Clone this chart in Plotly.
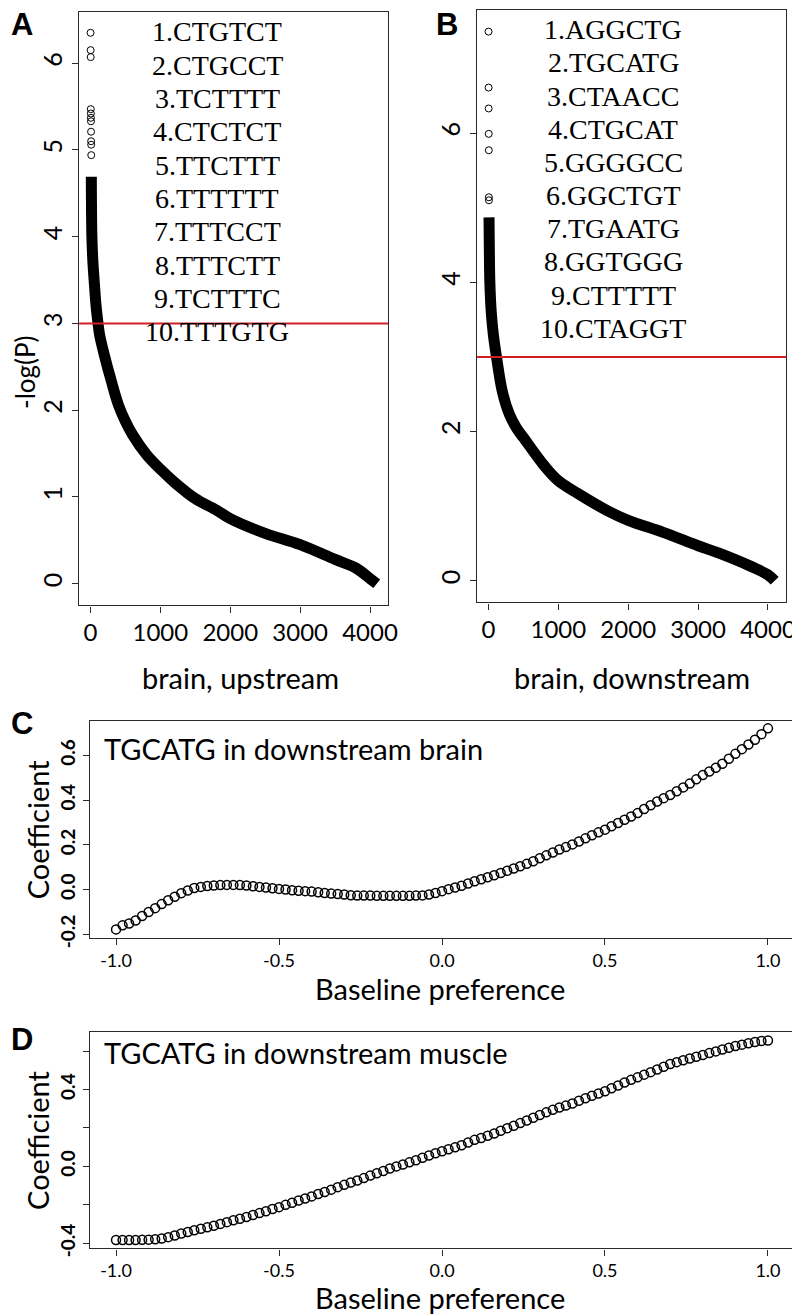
import plotly.graph_objects as go

W, H = 800, 1315

# ---------------- Panel A: brain, upstream ----------------
a_top_rank = [1, 2, 3, 4, 5, 6, 7, 8, 9, 10, 11]
a_top_val = [6.35, 6.15, 6.07, 5.47, 5.42, 5.37, 5.33, 5.21, 5.10, 5.06, 4.94]
a_band_rank = [12, 20, 35, 52, 80, 108, 132, 200, 300, 400, 500, 600, 800, 1000,
               1200, 1500, 1800, 2000, 2500, 3000, 3500, 3800, 4000, 4096]
a_band_val = [4.69, 4.00, 3.70, 3.50, 3.20, 3.00, 2.86, 2.63, 2.33, 2.06, 1.87, 1.72,
              1.49, 1.32, 1.17, 0.98, 0.85, 0.75, 0.58, 0.45, 0.28, 0.18, 0.06, 0.00]
a_motifs = ["1.CTGTCT", "2.CTGCCT", "3.TCTTTT", "4.CTCTCT", "5.TTCTTT",
            "6.TTTTTT", "7.TTTCCT", "8.TTTCTT", "9.TCTTTC", "10.TTTGTG"]

# ---------------- Panel B: brain, downstream ----------------
b_top_rank = [1, 2, 3, 4, 5, 6, 7]
b_top_val = [7.36, 6.61, 6.33, 5.99, 5.77, 5.14, 5.10]
b_band_rank = [8, 12, 20, 40, 70, 115, 200, 300, 400, 500, 800, 1000, 1280, 1700,
               2000, 2500, 3000, 3300, 3764, 4000, 4096]
b_band_val = [4.87, 4.50, 4.00, 3.60, 3.30, 3.00, 2.53, 2.23, 2.05, 1.92, 1.54, 1.34,
              1.17, 0.94, 0.81, 0.65, 0.47, 0.37, 0.19, 0.08, 0.00]
b_motifs = ["1.AGGCTG", "2.TGCATG", "3.CTAACC", "4.CTGCAT", "5.GGGGCC",
            "6.GGCTGT", "7.TGAATG", "8.GGTGGG", "9.CTTTTT", "10.CTAGGT"]

threshold = 3.0

# ---------------- Panels C / D ----------------
baseline = [round(-1 + 0.02 * i, 2) for i in range(101)]
coef_brain = [
    -0.178, -0.160, -0.152, -0.138, -0.118, -0.100, -0.083, -0.065, -0.048, -0.032,
    -0.016, -0.004, 0.007, 0.012, 0.016, 0.018, 0.020, 0.021, 0.021, 0.020,
    0.018, 0.015, 0.012, 0.009, 0.006, 0.003, 0.000, -0.003, -0.005, -0.007,
    -0.009, -0.012, -0.015, -0.018, -0.020, -0.022, -0.025, -0.027, -0.027, -0.027,
    -0.028, -0.028, -0.028, -0.028, -0.028, -0.028, -0.027, -0.026, -0.022, -0.015,
    -0.007, 0.002, 0.009, 0.017, 0.027, 0.037, 0.046, 0.055, 0.064, 0.074,
    0.084, 0.094, 0.104, 0.115, 0.127, 0.140, 0.153, 0.166, 0.179, 0.190,
    0.202, 0.215, 0.229, 0.243, 0.256, 0.268, 0.283, 0.298, 0.312, 0.327,
    0.342, 0.360, 0.377, 0.394, 0.409, 0.423, 0.440, 0.457, 0.474, 0.493,
    0.512, 0.528, 0.545, 0.563, 0.585, 0.607, 0.628, 0.649, 0.670, 0.695,
    0.721]
coef_muscle = [
    -0.383, -0.383, -0.383, -0.383, -0.382, -0.381, -0.379, -0.375, -0.368, -0.359,
    -0.349, -0.341, -0.332, -0.324, -0.317, -0.309, -0.299, -0.290, -0.280, -0.272,
    -0.263, -0.253, -0.243, -0.233, -0.222, -0.212, -0.200, -0.189, -0.177, -0.167,
    -0.156, -0.144, -0.133, -0.121, -0.108, -0.096, -0.084, -0.073, -0.061, -0.048,
    -0.036, -0.024, -0.011, 0.000, 0.010, 0.021, 0.032, 0.045, 0.057, 0.068,
    0.079, 0.089, 0.099, 0.110, 0.124, 0.138, 0.148, 0.159, 0.171, 0.185,
    0.198, 0.211, 0.225, 0.239, 0.253, 0.267, 0.281, 0.294, 0.306, 0.316,
    0.327, 0.341, 0.354, 0.367, 0.379, 0.391, 0.406, 0.421, 0.436, 0.450,
    0.463, 0.477, 0.490, 0.504, 0.518, 0.532, 0.542, 0.552, 0.561, 0.570,
    0.579, 0.589, 0.598, 0.608, 0.617, 0.626, 0.633, 0.640, 0.647, 0.652,
    0.655]

x_ticks_ab = [0, 1000, 2000, 3000, 4000]
x_ticks_cd = [-1.0, -0.5, 0.0, 0.5, 1.0]
x_ticktext_cd = ["-1.0", "-0.5", "0.0", "0.5", "1.0"]
y_ticks_c = [-0.2, 0.0, 0.2, 0.4, 0.6]
y_ticktext_c = ["-0.2", "0.0", "0.2", "0.4", "0.6"]
y_ticks_d = [-0.4, -0.2, 0.0, 0.2, 0.4, 0.6]
y_ticktext_d = ["-0.4", "", "0.0", "", "0.4", ""]


def px_x(p):
    return p / W


def px_y(p):
    return 1 - p / H


SANS = "Lato"
AXC = "#2a2a2a"

fig = go.Figure()

band_line = dict(color="black", width=11, shape="spline")
sparse_marker = dict(symbol="circle-open", size=7, color="black", line=dict(width=1))
chain_marker = dict(symbol="circle-open", size=9, color="black", line=dict(width=1.5))

# A
fig.add_trace(go.Scatter(x=a_band_rank, y=a_band_val, mode="lines", line=band_line,
                         xaxis="x", yaxis="y", hoverinfo="skip"))
fig.add_trace(go.Scatter(x=a_top_rank, y=a_top_val, mode="markers", marker=sparse_marker,
                         xaxis="x", yaxis="y"))
# B
fig.add_trace(go.Scatter(x=b_band_rank, y=b_band_val, mode="lines", line=band_line,
                         xaxis="x2", yaxis="y2", hoverinfo="skip"))
fig.add_trace(go.Scatter(x=b_top_rank, y=b_top_val, mode="markers", marker=sparse_marker,
                         xaxis="x2", yaxis="y2"))
# C
fig.add_trace(go.Scatter(x=baseline, y=coef_brain, mode="markers", marker=chain_marker,
                         xaxis="x3", yaxis="y3"))
# D
fig.add_trace(go.Scatter(x=baseline, y=coef_muscle, mode="markers", marker=chain_marker,
                         xaxis="x4", yaxis="y4"))


def axis(domain, rng, tickvals, anchor, ticktext=None, size=22, angle=0, bold=False):
    d = dict(domain=domain, range=rng, tickvals=tickvals, anchor=anchor, ticks="outside", ticklen=6, tickwidth=1,
             tickcolor=AXC, showline=True, linecolor=AXC, linewidth=1.2, mirror=True,
             showgrid=False, zeroline=False, tickangle=angle,
             tickfont=dict(family=SANS, size=size, color="black", weight="bold" if bold else "normal"))
    if ticktext is not None:
        d["ticktext"] = ticktext
    return d


fig.update_layout(
    width=W, height=H, margin=dict(l=0, r=0, t=0, b=0),
    paper_bgcolor="white", plot_bgcolor="white", showlegend=False,
    xaxis=axis([px_x(72), px_x(385)], [-163, 4260], x_ticks_ab, "y", size=24),
    yaxis=axis([px_y(602), px_y(4)], [-0.25, 6.59], [0, 1, 2, 3, 4, 5, 6], "x", size=25, angle=-90),
    xaxis2=axis([px_x(475), px_x(788)], [-163, 4260], x_ticks_ab, "y2", size=24),
    yaxis2=axis([px_y(599), px_y(2)], [-0.29, 7.65], [0, 2, 4, 6], "x2", size=25, angle=-90),
    xaxis3=axis([px_x(83), px_x(796)], [-1.08, 1.08], x_ticks_cd, "y3", x_ticktext_cd, size=18),
    yaxis3=axis([px_y(937), px_y(718)], [-0.216, 0.756], y_ticks_c, "x3", y_ticktext_c, size=19, angle=-90, bold=True),
    xaxis4=axis([px_x(83), px_x(796)], [-1.08, 1.08], x_ticks_cd, "y4", x_ticktext_cd, size=18),
    yaxis4=axis([px_y(1250), px_y(1032)], [-0.427, 0.698], y_ticks_d, "x4", y_ticktext_d, size=19, angle=-90, bold=True),
)

for ya, xa in (("y", "x"), ("y2", "x2")):
    fig.add_shape(type="line", xref=xa + " domain", x0=0, x1=1, yref=ya, y0=threshold, y1=threshold,
                  line=dict(color="rgb(208,32,38)", width=2))

ann = []


def text(x, y, s, size, family=SANS, angle=0, xanchor="center", bold=False):
    ann.append(dict(x=px_x(x), y=px_y(y), xref="paper", yref="paper", text=s, showarrow=False,
                    xanchor=xanchor, yanchor="middle", textangle=angle,
                    font=dict(family=family, size=size, color="black", weight="bold" if bold else "normal")))


# motif lists
for i, m in enumerate(a_motifs):
    text(212, 24 + 33.6 * i, m, 28, family="Liberation Serif")
for i, m in enumerate(b_motifs):
    text(613, 22 + 33.4 * i, m, 28, family="Liberation Serif")

# panel letters
text(14, 17, "A", 31, family="Liberation Sans", bold=True)
text(445, 17, "B", 31, family="Liberation Sans", bold=True)
text(14, 721, "C", 31, family="Liberation Sans", bold=True)
text(14, 1039, "D", 31, family="Liberation Sans", bold=True)

# axis titles
text(17, 367, "-log(P)", 26, angle=-90)
text(235, 675, "brain, upstream", 29)
text(632, 675, "brain, downstream", 29)
text(30, 828, "Coefficient", 29, angle=-90)
text(437, 988, "Baseline preference", 29)
text(30, 1141, "Coefficient", 29, angle=-90)
text(437, 1299, "Baseline preference", 29)

# inset titles
text(95, 746, "TGCATG in downstream brain", 29, xanchor="left")
text(95, 1053, "TGCATG in downstream muscle", 29, xanchor="left")

fig.update_layout(annotations=ann)
fig.write_html("out.html")
